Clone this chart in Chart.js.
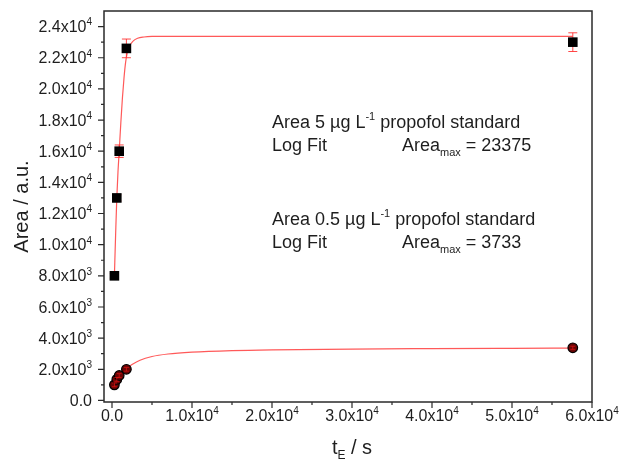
<!DOCTYPE html>
<html><head><meta charset="utf-8">
<script src="https://cdn.jsdelivr.net/npm/chart.js@4"></script>
<style>html,body{margin:0;padding:0;background:#fff}#wrap{width:621px;height:467px;position:relative}</style>
</head><body><div id="wrap"><canvas id="c"></canvas></div>
<script>
// ---- data ----
const sqT    = [300, 600, 900, 1800, 57600];
const sqArea = [8000, 13000, 16000, 22600, 23000];
const sqErr  = [150, 200, 400, 600, 600];

const ciT    = [300, 600, 900, 1800, 57600];
const ciArea = [1000, 1350, 1600, 2000, 3380];
const ciErr  = [120, 120, 120, 120, 100];

const sqFitT    = [300, 450, 600, 750, 900, 1100, 1300, 1500, 1700, 1900, 2200, 2600, 3200, 4000, 5000, 7000, 15000, 30000, 45000, 57600];
const sqFitArea = [8000, 10600, 13000, 14700, 16000, 17800, 19400, 20700, 21700, 22300, 22750, 23050, 23250, 23330, 23365, 23375, 23375, 23375, 23375, 23375];

const ciFitT    = [300, 600, 900, 1200, 1800, 2500, 3500, 5000, 7000, 10000, 15000, 20000, 30000, 40000, 50000, 57600];
const ciFitArea = [1000, 1350, 1600, 1800, 2050, 2300, 2580, 2820, 2980, 3100, 3200, 3250, 3300, 3325, 3345, 3360];

const xTickValues = [0, 10000, 20000, 30000, 40000, 50000, 60000];
const xTickLabels = ['0.0', '1.0x10^4', '2.0x10^4', '3.0x10^4', '4.0x10^4', '5.0x10^4', '6.0x10^4'];
const xMinorValues = [5000, 15000, 25000, 35000, 45000, 55000];

const yTickValues = [0, 2000, 4000, 6000, 8000, 10000, 12000, 14000, 16000, 18000, 20000, 22000, 24000];
const yTickLabels = ['0.0', '2.0x10^3', '4.0x10^3', '6.0x10^3', '8.0x10^3', '1.0x10^4', '1.2x10^4', '1.4x10^4', '1.6x10^4', '1.8x10^4', '2.0x10^4', '2.2x10^4', '2.4x10^4'];
const yMinorValues = [1000, 3000, 5000, 7000, 9000, 11000, 13000, 15000, 17000, 19000, 21000, 23000];

const xTitle = [{t: 't'}, {t: 'E', sub: true}, {t: ' / s'}];
const yTitle = 'Area / a.u.';
const notes = [
  [{t: 'Area 5 µg L'}, {t: '-1', sup: true}, {t: ' propofol standard'}],
  [{t: 'Log Fit'}],
  [{t: 'Area'}, {t: 'max', sub: true}, {t: ' = 23375'}],
  [{t: 'Area 0.5 µg L'}, {t: '-1', sup: true}, {t: ' propofol standard'}],
  [{t: 'Log Fit'}],
  [{t: 'Area'}, {t: 'max', sub: true}, {t: ' = 3733'}]
];

// ---- helpers ----
const FONT = '"Liberation Sans", Arial, sans-serif';
const TXT = '#1e1e1e';
const zip = (xs, ys) => xs.map((v, i) => ({x: v, y: ys[i]}));

function richWidth(ctx, parts, size) {
  let w = 0;
  parts.forEach(p => {
    ctx.font = ((p.sup || p.sub) ? Math.round(size * 0.62) : size) + 'px ' + FONT;
    w += ctx.measureText(p.t).width;
  });
  return w;
}
function drawRich(ctx, parts, x, y, size) {
  let cx = x;
  parts.forEach(p => {
    const small = p.sup || p.sub;
    ctx.font = (small ? Math.round(size * 0.62) : size) + 'px ' + FONT;
    const dy = p.sup ? -size * 0.42 : (p.sub ? size * 0.25 : 0);
    ctx.fillText(p.t, cx, y + dy);
    cx += ctx.measureText(p.t).width;
  });
}
function labelParts(s) {
  const i = s.indexOf('^');
  if (i < 0) return [{t: s}];
  return [{t: s.slice(0, i)}, {t: s.slice(i + 1), sup: true}];
}

function errorBars(chart, xs, ys, es, capHalf, color) {
  const {ctx, scales: {x, y}} = chart;
  ctx.save();
  ctx.strokeStyle = color;
  ctx.lineWidth = 1;
  xs.forEach((v, i) => {
    const px = x.getPixelForValue(v);
    const top = y.getPixelForValue(ys[i] + es[i]);
    const bot = y.getPixelForValue(ys[i] - es[i]);
    ctx.beginPath();
    ctx.moveTo(px, top); ctx.lineTo(px, bot);
    ctx.moveTo(px - capHalf, top); ctx.lineTo(px + capHalf, top);
    ctx.moveTo(px - capHalf, bot); ctx.lineTo(px + capHalf, bot);
    ctx.stroke();
  });
  ctx.restore();
}

const decor = {
  id: 'decor',
  beforeDatasetsDraw(chart) {
    errorBars(chart, sqT, sqArea, sqErr, 4.5, 'rgba(255,40,40,0.85)');
  },
  afterDatasetsDraw(chart) {
    errorBars(chart, ciT, ciArea, ciErr, 2.5, 'rgba(230,20,20,0.7)');
  },
  afterDraw(chart) {
    const {ctx, chartArea: a, scales: {x, y}} = chart;
    ctx.save();
    // frame
    ctx.strokeStyle = '#2a2a2a';
    ctx.lineWidth = 1.5;
    ctx.strokeRect(a.left, a.top, a.right - a.left, a.bottom - a.top);
    // ticks
    ctx.lineWidth = 1.2;
    ctx.beginPath();
    yTickValues.forEach(v => { const p = y.getPixelForValue(v); ctx.moveTo(a.left - 6, p); ctx.lineTo(a.left, p); });
    yMinorValues.forEach(v => { const p = y.getPixelForValue(v); ctx.moveTo(a.left - 3, p); ctx.lineTo(a.left, p); });
    xTickValues.forEach(v => { const p = x.getPixelForValue(v); ctx.moveTo(p, a.bottom); ctx.lineTo(p, a.bottom + 6); });
    xMinorValues.forEach(v => { const p = x.getPixelForValue(v); ctx.moveTo(p, a.bottom); ctx.lineTo(p, a.bottom + 3); });
    ctx.stroke();
    // tick labels
    ctx.fillStyle = TXT;
    ctx.textBaseline = 'alphabetic';
    ctx.textAlign = 'left';
    yTickValues.forEach((v, i) => {
      const parts = labelParts(yTickLabels[i]);
      const w = richWidth(ctx, parts, 16);
      drawRich(ctx, parts, a.left - 12 - w, y.getPixelForValue(v) + 5.6, 16);
    });
    xTickValues.forEach((v, i) => {
      const parts = labelParts(xTickLabels[i]);
      const w = richWidth(ctx, parts, 16);
      drawRich(ctx, parts, x.getPixelForValue(v) - w / 2, a.bottom + 19, 16);
    });
    // axis titles
    const tw = richWidth(ctx, xTitle, 20);
    drawRich(ctx, xTitle, (a.left + a.right) / 2 - tw / 2 + 4, 454, 20);
    ctx.save();
    ctx.translate(22, (a.top + a.bottom) / 2);
    ctx.rotate(-Math.PI / 2);
    ctx.font = '20px ' + FONT;
    ctx.textAlign = 'center';
    ctx.textBaseline = 'middle';
    ctx.fillText(yTitle, 0, 0);
    ctx.restore();
    // annotations
    ctx.textAlign = 'left';
    ctx.textBaseline = 'alphabetic';
    const L = a.left + 168, R = a.left + 298;
    drawRich(ctx, notes[0], L, 127.5, 18);
    drawRich(ctx, notes[1], L, 151, 18);
    drawRich(ctx, notes[2], R, 151, 18);
    drawRich(ctx, notes[3], L, 224.5, 18);
    drawRich(ctx, notes[4], L, 248, 18);
    drawRich(ctx, notes[5], R, 248, 18);
    ctx.restore();
  }
};

const fitStyle = {type: 'line', showLine: true, borderColor: 'rgba(255,60,60,0.85)', borderWidth: 1.2,
  pointRadius: 0, cubicInterpolationMode: 'monotone', fill: false, order: 3};

new Chart(document.getElementById('c'), {
  type: 'scatter',
  data: {
    datasets: [
      Object.assign({label: 'fit 5', data: zip(sqFitT, sqFitArea)}, fitStyle),
      Object.assign({label: 'fit 0.5', data: zip(ciFitT, ciFitArea)}, fitStyle),
      {label: 'Area 5', data: zip(sqT, sqArea), pointStyle: 'rect', pointRadius: 6.8, pointHoverRadius: 6.8,
        backgroundColor: '#000', borderColor: '#000', borderWidth: 0, order: 1},
      {label: 'Area 0.5', data: zip(ciT, ciArea), pointStyle: 'circle', pointRadius: 4.8, pointHoverRadius: 4.8,
        backgroundColor: '#6a0505', borderColor: '#000', borderWidth: 1.2, order: 1}
    ]
  },
  options: {
    responsive: true, maintainAspectRatio: false, animation: false,
    layout: {padding: {left: 104, right: 29, top: 11, bottom: 65}},
    plugins: {legend: {display: false}, tooltip: {enabled: false}},
    scales: {
      x: {type: 'linear', min: -1000, max: 60000, display: false},
      y: {type: 'linear', min: -100, max: 25000, display: false}
    }
  },
  plugins: [decor]
});
</script>
</body></html>
